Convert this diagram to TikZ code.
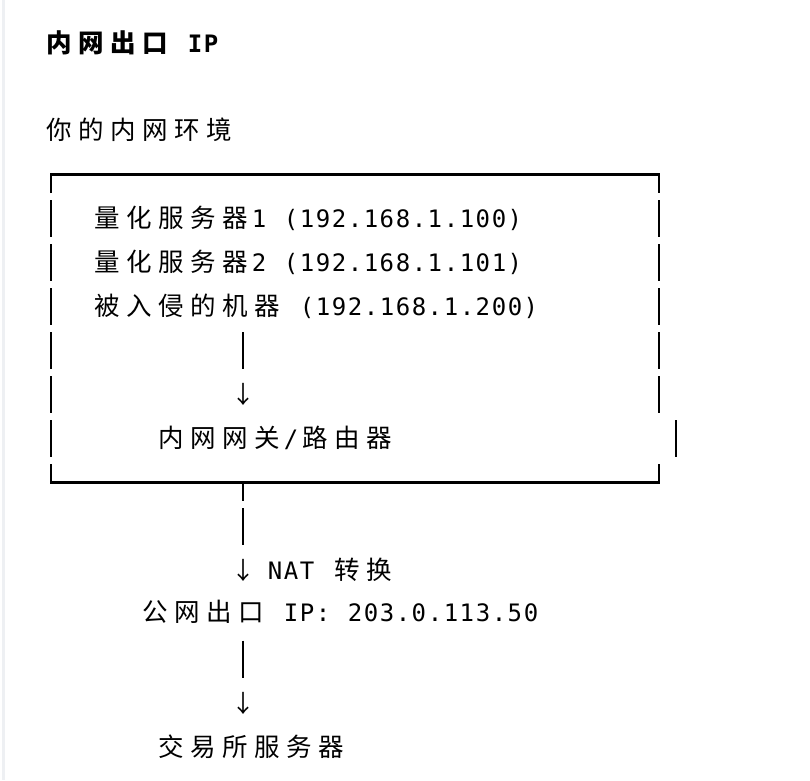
\documentclass[tikz,border=0pt]{standalone}
\usepackage{fontspec}
\newfontfamily\monof{DejaVu Sans Mono}
\newfontfamily\cjkf{Noto Sans CJK SC}
\definecolor{edgegray}{HTML}{EEF0F3}
\newcommand\Lt[1]{\LtLoop#1\relax}
\def\LtLoop#1{\ifx#1\relax\else\makebox[16pt][c]{\monof\fontsize{24}{28}\selectfont #1}\expandafter\LtLoop\fi}
\newcommand\Ct[1]{\CtLoop#1\relax}
\def\CtLoop#1{\ifx#1\relax\else\makebox[32pt][c]{\cjkf\fontsize{25.5}{28}\selectfont #1}\expandafter\CtLoop\fi}
\newcommand\Dn{\makebox[16pt][c]{\cjkf\fontsize{24}{28}\selectfont ↓}}
\newcommand\Sp{\hspace*{16pt}}
\begin{document}
\begin{tikzpicture}[x=1pt,y=-1pt,
  txt/.style={anchor=base west,inner sep=0pt,outer sep=0pt},
  bar/.style={line width=2.6pt,line cap=butt,line join=miter}]
\useasboundingbox (0,0) rectangle (810,780);
\fill[white] (0,0) rectangle (810,780);
\fill[edgegray] (2,0) rectangle (5,780);
% texts
\node[txt] (title) at (43,52.5) {\bfseries\Ct{内网出口}\Sp\Lt{IP}};
\node[txt] (sub) at (43,139.5) {\Ct{你的内网环境}};
\node[txt] (s1) at (91,227.5) {\Ct{量化服务器}\Lt{1}\Sp\Lt{(192.168.1.100)}};
\node[txt] (s2) at (91,271.5) {\Ct{量化服务器}\Lt{2}\Sp\Lt{(192.168.1.101)}};
\node[txt] (s3) at (91,315.5) {\Ct{被入侵的机器}\Sp\Lt{(192.168.1.200)}};
\node[txt] (a1) at (235,403.5) {\Dn};
\node[txt] (gw) at (155,447.5) {\Ct{内网网关}\Lt{/}\Ct{路由器}};
\node[txt] (a2) at (235,579.5) {\Dn\Sp\Lt{NAT}\Sp\Ct{转换}};
\node[txt] (pub) at (139,621.5) {\Ct{公网出口}\Sp\Lt{IP:}\Sp\Lt{203.0.113.50}};
\node[txt] (a3) at (235,712) {\Dn};
\node[txt] (ex) at (155,756.5) {\Ct{交易所服务器}};
% box
\draw[bar] (51,193) -- (51,174.5) -- (659,174.5) -- (659,193);
\draw[bar] (51,464) -- (51,482.5) -- (659,482.5) -- (659,464);
\draw[bar] (243,482.5) -- (243,501);
\foreach \c in {218.5,262.5,306.5,350.5,394.5}{
  \draw[bar] (51,{\c-18.5}) -- (51,{\c+18.5});
  \draw[bar] (659,{\c-18.5}) -- (659,{\c+18.5});
}
\draw[bar] (51,420) -- (51,457);
\draw[bar] (676,420) -- (676,457);
% inner connectors
\draw[bar] (243,332) -- (243,369);
\draw[bar] (243,508) -- (243,545);
\draw[bar] (243,640.5) -- (243,677.5);
\end{tikzpicture}
\end{document}
